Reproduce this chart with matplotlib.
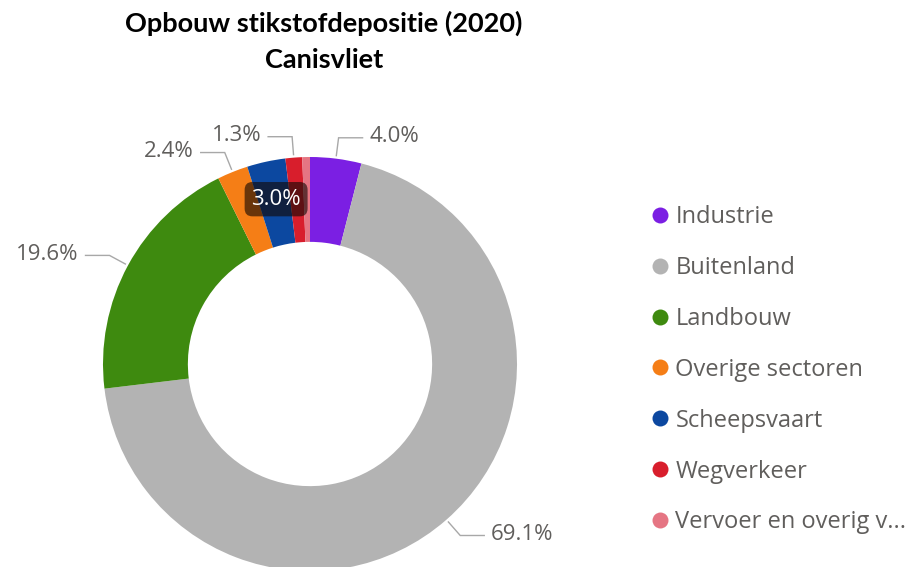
import numpy as np
import matplotlib
matplotlib.use("Agg")
import matplotlib.pyplot as plt
from matplotlib.lines import Line2D

categories = ["Industrie", "Buitenland", "Landbouw", "Overige sectoren",
              "Scheepsvaart", "Wegverkeer", "Vervoer en overig v..."]
values = [4.0, 69.1, 19.6, 2.4, 3.0, 1.3, 0.6]
pct_labels = ["4.0%", "69.1%", "19.6%", "2.4%", "3.0%", "1.3%", ""]
colors = ["#7B1FE3", "#B3B3B3", "#3E8A0F", "#F57E16", "#0C48A0", "#D81E2C", "#E57583"]

W, H = 921, 567
fig = plt.figure(figsize=(W / 100, H / 100), dpi=100)
ax = fig.add_axes([0, 0, 1, 1])

cx, cy = 310, H - 364
R = 207
ring = 0.41

wedges, _ = ax.pie(values, colors=colors, startangle=90, counterclock=False,
                   radius=R, center=(cx, cy), frame=True,
                   wedgeprops=dict(width=R * ring, edgecolor="none"))
ax.set_xlim(0, W)
ax.set_ylim(0, H)
ax.set_aspect("equal")
ax.axis("off")

lab_font = dict(family="Open Sans", fontsize=16, color="#605E5C")
total = sum(values)
cum = np.cumsum([0] + values[:-1])
for i, lab in enumerate(pct_labels):
    if not lab:
        continue
    frac = (cum[i] + values[i] / 2) / total
    ang = np.deg2rad(90 - 360 * frac)
    if lab == "3.0%":
        rm = R - R * ring / 2
        x, y = cx + rm * np.cos(ang), cy + rm * np.sin(ang)
        ax.text(x + 1, y + 4, lab, ha="center", va="center", family="Open Sans",
                fontsize=16, color="white",
                bbox=dict(boxstyle="round,pad=0.3,rounding_size=0.35",
                          fc="#140804", ec="none", alpha=0.62))
        continue
    x0, y0 = cx + (R + 3) * np.cos(ang), cy + (R + 3) * np.sin(ang)
    x1, y1 = cx + (R + 21) * np.cos(ang), cy + (R + 21) * np.sin(ang)
    side = 1 if np.cos(ang) >= 0 else -1
    x2 = x1 + side * 24
    ax.plot([x0, x1, x2], [y0, y1, y1], color="#A8A8A8", lw=1.0,
            solid_joinstyle="miter")
    ax.text(x2 + side * 7, y1 + 1, lab, ha="left" if side > 0 else "right",
            va="center", **lab_font)

fig.text(324 / W, 1 - 23 / H, "Opbouw stikstofdepositie (2020)", ha="center",
         va="center", family="Lato", fontweight="bold", fontsize=19.5, color="black")
fig.text(324 / W, 1 - 60 / H, "Canisvliet", ha="center",
         va="center", family="Lato", fontweight="bold", fontsize=19.5, color="black")

handles = [Line2D([], [], marker="o", ls="none", markersize=11.5,
                  markerfacecolor=c, markeredgecolor="none") for c in colors]
leg = fig.legend(handles, categories, loc="upper left",
                 bbox_to_anchor=(653 / W, 1 - 205 / H), frameon=False,
                 handlelength=0.6, handletextpad=0.35, labelspacing=1.14,
                 borderpad=0, borderaxespad=0,
                 prop=dict(family="Open Sans", size=17))
for t in leg.get_texts():
    t.set_color("#605E5C")

fig.savefig("out.png", dpi=100, facecolor="white")
